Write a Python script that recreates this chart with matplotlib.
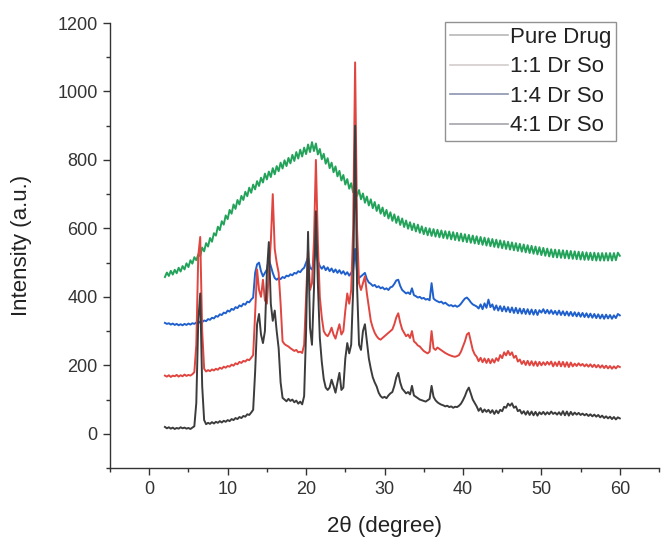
import numpy as np
import matplotlib
matplotlib.use("Agg")
import matplotlib.pyplot as plt
from matplotlib.lines import Line2D
from matplotlib.ticker import MultipleLocator

plt.rcParams['font.family'] = ['Liberation Sans', 'DejaVu Sans']

# 2-theta scan grid: 2 to 60 degrees, 0.25 degree step
two_theta = np.round(np.arange(2.0, 60.001, 0.25), 2)

pure_drug = [
    20, 16, 19, 15, 18, 14, 17, 15,
    19, 16, 18, 15, 17, 14, 18, 22,
    90, 330, 410, 140, 40, 28, 32, 29,
    34, 30, 35, 32, 37, 33, 38, 35,
    40, 37, 43, 40, 46, 43, 49, 46,
    52, 50, 57, 55, 62, 70, 180, 320,
    350, 290, 265, 300, 470, 560, 380, 330,
    360, 300, 250, 150, 105, 100, 95, 102,
    96, 100, 92, 97, 88, 94, 86, 110,
    300, 590, 310, 260, 420, 650, 440, 280,
    210, 160, 135, 128, 135, 158, 140, 120,
    150, 178, 128, 135, 220, 265, 235, 260,
    420, 900, 430, 260, 245, 300, 320, 270,
    220, 190, 165, 150, 138, 120, 110, 105,
    108, 104, 112, 118, 122, 140, 165, 178,
    150, 132, 125, 118, 122, 115, 140, 112,
    108, 104, 100, 98, 96, 94, 98, 102,
    140, 108, 98, 92, 88, 85, 83, 80,
    82, 78, 80, 76, 79, 78, 82, 88,
    98, 110, 125, 135, 118, 100, 90, 80,
    67, 75, 63, 71, 64, 70, 61, 69,
    58, 68, 60, 70, 66, 79, 76, 88,
    82, 89, 76, 80, 66, 70, 59, 66,
    56, 66, 55, 65, 54, 64, 53, 63,
    57, 64, 56, 63, 57, 65, 58, 62,
    56, 63, 55, 66, 54, 65, 53, 64,
    55, 62, 56, 61, 55, 59, 54, 58,
    52, 57, 51, 56, 50, 55, 48, 53,
    46, 51, 45, 50, 43, 49, 42, 48,
    45,
]

ratio_1_1 = [
    170, 167, 171, 166, 170, 168, 172, 167,
    171, 168, 173, 169, 172, 170, 174, 180,
    260, 520, 575, 300, 190, 182, 186, 183,
    188, 185, 190, 187, 193, 190, 196, 193,
    198, 196, 202, 199, 206, 203, 210, 207,
    213, 211, 217, 215, 222, 230, 350, 480,
    420, 400, 450, 390, 380, 470, 560, 700,
    540, 500, 470, 380, 270, 262, 258, 255,
    250, 246, 242, 245, 238, 240, 236, 260,
    400, 540, 420, 440, 560, 800, 560, 400,
    340, 300, 290, 285, 295, 310, 290, 278,
    300, 320, 290, 300, 360, 410, 380, 420,
    600, 1085, 600, 440, 420, 440, 460, 410,
    370, 330, 310, 295, 285, 278, 275, 280,
    285, 290, 295, 300, 305, 320, 340, 352,
    325, 305, 295, 285, 290, 280, 300, 270,
    265, 258, 255, 248, 242, 238, 235, 240,
    300, 250, 245, 252, 248, 244, 240, 236,
    233, 230, 228, 226, 225, 227, 230, 240,
    255, 270, 290, 295, 270, 245, 232, 225,
    212, 222, 209, 220, 207, 219, 206, 218,
    208, 221, 213, 230, 221, 238, 229, 242,
    230, 238, 222, 228, 211, 217, 204, 213,
    201, 213, 200, 212, 199, 211, 198, 210,
    200, 209, 201, 210, 202, 211, 197, 209,
    198, 211, 197, 210, 196, 209, 195, 208,
    197, 205, 198, 206, 199, 204, 197, 203,
    196, 203, 195, 202, 194, 201, 193, 200,
    192, 199, 191, 198, 190, 197, 191, 198,
    195,
]

ratio_1_4 = [
    324, 321, 323, 319, 322, 318, 321, 317,
    320, 317, 321, 318, 322, 319, 323, 321,
    325, 323, 328, 326, 331, 329, 335, 333,
    339, 337, 344, 342, 349, 347, 354, 352,
    360, 357, 365, 362, 370, 367, 375, 372,
    380, 377, 386, 384, 392, 398, 470, 495,
    500, 475, 460, 470, 480, 510, 490, 470,
    455, 450, 455, 452, 458, 455, 462, 460,
    466, 463, 470, 468, 475, 472, 480, 485,
    500, 515, 485, 480, 500, 540, 505, 490,
    482, 490, 478, 486, 475, 483, 472, 480,
    470, 478, 468, 475, 465, 472, 462, 470,
    480, 540, 470, 455, 460, 465, 470, 452,
    442, 438, 432, 435, 428, 431, 425, 428,
    422, 425, 420, 428, 430, 438, 448, 450,
    432, 420, 415, 410, 413, 408, 425, 405,
    402, 398, 400, 395, 397, 392, 394, 390,
    440, 395, 390, 387, 384, 386, 380, 383,
    378, 374, 376, 372, 375, 371, 374, 380,
    388, 395, 398, 392, 384, 378, 375, 372,
    366, 378, 364, 381, 368, 392, 370, 378,
    362, 375, 360, 373, 358, 372, 357, 370,
    355, 369, 353, 368, 352, 366, 351, 365,
    350, 364, 349, 363, 348, 362, 347, 361,
    354, 364, 352, 362, 351, 361, 350, 359,
    348, 360, 347, 358, 346, 357, 345, 356,
    344, 355, 343, 354, 342, 353, 341, 352,
    340, 351, 339, 350, 338, 349, 337, 348,
    336, 348, 337, 347, 336, 346, 338, 350,
    346,
]

ratio_4_1 = [
    458, 471, 461, 476, 465, 479, 469, 485,
    474, 490, 480, 498, 487, 507, 497, 516,
    507, 524, 519, 544, 533, 557, 547, 572,
    561, 586, 579, 605, 595, 621, 611, 638,
    627, 654, 643, 670, 657, 683, 670, 695,
    683, 707, 694, 719, 704, 728, 714, 738,
    724, 748, 734, 760, 743, 766, 750, 776,
    758, 782, 767, 792, 775, 799, 782, 806,
    790, 815, 797, 823, 804, 830, 810, 836,
    817, 845, 823, 852, 826, 848, 816, 832,
    802, 818, 789, 805, 776, 792, 764, 781,
    752, 768, 740, 756, 728, 744, 716, 732,
    705, 722, 695, 712, 685, 702, 675, 693,
    667, 685, 659, 677, 651, 669, 643, 661,
    636, 654, 629, 647, 622, 641, 616, 635,
    610, 629, 604, 623, 599, 618, 595, 614,
    591, 611, 587, 606, 583, 602, 580, 600,
    578, 598, 576, 596, 574, 594, 572, 592,
    570, 591, 568, 589, 566, 587, 564, 585,
    562, 583, 560, 581, 558, 579, 556, 577,
    554, 575, 552, 573, 550, 571, 548, 569,
    546, 567, 544, 565, 542, 563, 540, 561,
    538, 559, 536, 557, 534, 555, 532, 553,
    530, 551, 528, 549, 526, 547, 524, 545,
    522, 543, 520, 541, 518, 539, 516, 538,
    515, 537, 514, 536, 513, 535, 512, 534,
    511, 533, 510, 532, 509, 531, 508, 530,
    508, 529, 507, 529, 506, 528, 506, 528,
    506, 528, 506, 528, 506, 528, 507, 529,
    520,
]

labels = ["Pure Drug", "1:1 Dr So", "1:4 Dr So", "4:1 Dr So"]
legend_colors = ["#b8b8b8", "#d4cccc", "#8c94b0", "#a4a4ac"]

fig = plt.figure(figsize=(6.62, 5.39), dpi=100)
ax = fig.add_axes([0.1662, 0.1317, 0.8293, 0.8256])

ax.plot(two_theta, ratio_4_1, color="#23a35a", lw=1.4, zorder=2)
ax.plot(two_theta, ratio_1_4, color="#2060cc", lw=1.4, zorder=3)
ax.plot(two_theta, ratio_1_1, color="#e04540", lw=1.4, zorder=4)
ax.plot(two_theta, pure_drug, color="#3c3c3c", lw=1.4, zorder=5)

ax.set_xlim(-5, 65)
ax.set_ylim(-100, 1200)
ax.xaxis.set_major_locator(MultipleLocator(10))
ax.xaxis.set_minor_locator(MultipleLocator(5))
ax.yaxis.set_major_locator(MultipleLocator(200))
ax.yaxis.set_minor_locator(MultipleLocator(100))
ax.set_xticks(range(0, 61, 10))
ax.set_yticks(range(0, 1201, 200))

for side in ("top", "right"):
    ax.spines[side].set_visible(False)
for side in ("left", "bottom"):
    ax.spines[side].set_color("#333333")
    ax.spines[side].set_linewidth(1.0)

ax.tick_params(which="major", direction="out", length=5, width=1.0,
               colors="#333333", labelsize=13, labelcolor="#333333", pad=4)
ax.tick_params(which="minor", direction="out", length=3, width=1.0,
               colors="#333333")

ax.set_xlabel("2θ (degree)", fontsize=16, color="#222222", labelpad=13)
ax.set_ylabel("Intensity (a.u.)", fontsize=16, color="#222222", labelpad=18)

handles = [Line2D([0], [0], color=c, lw=1.2) for c in legend_colors]
leg = ax.legend(handles, labels, loc="upper left", bbox_to_anchor=(0.610, 1.002),
                fontsize=16, frameon=True, fancybox=False, borderaxespad=0,
                handlelength=2.6, handletextpad=0.1, borderpad=0.22,
                labelspacing=0.38)
leg.get_frame().set_edgecolor("#777777")
leg.get_frame().set_linewidth(1.0)
for t in leg.get_texts():
    t.set_color("#222222")

fig.savefig("out.png", dpi=100)
